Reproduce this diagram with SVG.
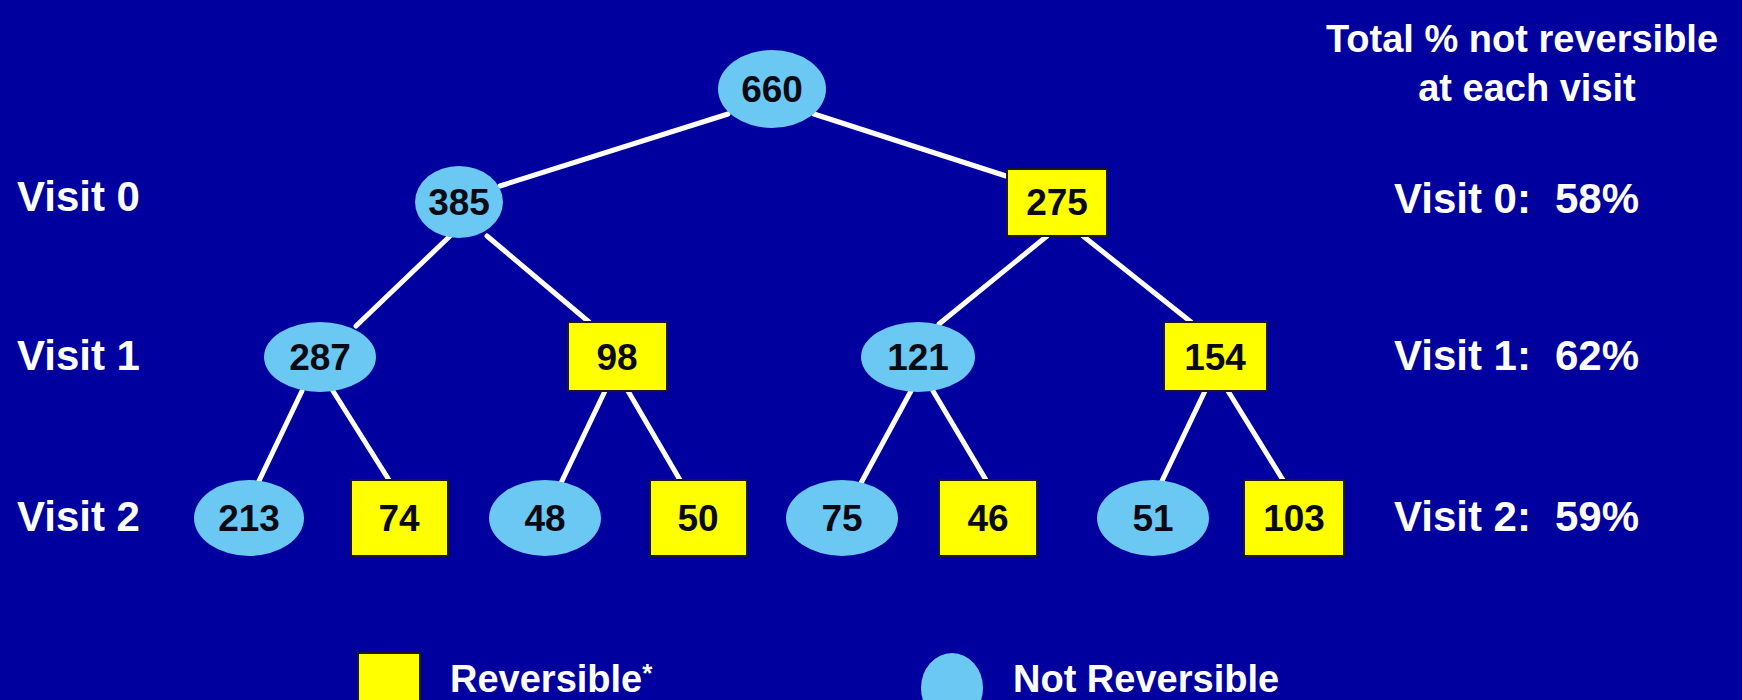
<svg xmlns="http://www.w3.org/2000/svg" width="1742" height="700" viewBox="0 0 1742 700">
<style>
.bg{fill:#00009e}
.el{fill:#6ac8f2}
.rc{fill:#ffff00;stroke:#1a1a1a;stroke-width:2}
.num{font-family:"Liberation Sans",Arial,sans-serif;font-size:37px;font-weight:bold;fill:#0a0a14;text-anchor:middle}
.lbl{font-family:"Liberation Sans",Arial,sans-serif;font-size:38px;font-weight:bold;fill:#ffffff}
.vl{font-size:42px}
.mid{text-anchor:middle}
.ln{stroke:#ffffff;stroke-width:5;stroke-linecap:round}
</style>
<rect class="bg" x="0" y="0" width="1742" height="700"/>
<g id="connectors">
<line class="ln" x1="728" y1="114" x2="500" y2="186"/>
<line class="ln" x1="814" y1="114" x2="1006" y2="176"/>
<line class="ln" x1="450" y1="236" x2="356" y2="326"/>
<line class="ln" x1="487" y1="236" x2="589" y2="322"/>
<line class="ln" x1="1047" y1="236" x2="939" y2="324"/>
<line class="ln" x1="1083" y1="236" x2="1191" y2="322"/>
<line class="ln" x1="302" y1="391" x2="258" y2="483"/>
<line class="ln" x1="333" y1="391" x2="389" y2="480"/>
<line class="ln" x1="605" y1="391" x2="561" y2="483"/>
<line class="ln" x1="628" y1="391" x2="680" y2="480"/>
<line class="ln" x1="911" y1="391" x2="861" y2="483"/>
<line class="ln" x1="933" y1="391" x2="986" y2="480"/>
<line class="ln" x1="1205" y1="391" x2="1161" y2="483"/>
<line class="ln" x1="1228" y1="391" x2="1283" y2="480"/>
</g>
<g id="n660"><ellipse class="el" cx="772" cy="89" rx="54" ry="39"/><text class="num" x="772" y="102">660</text></g>
<g id="n385"><ellipse class="el" cx="459" cy="202" rx="44" ry="36"/><text class="num" x="459" y="215">385</text></g>
<g id="n275"><rect class="rc" x="1007" y="169" width="100" height="67"/><text class="num" x="1057" y="215">275</text></g>
<g id="n287"><ellipse class="el" cx="320" cy="357" rx="56" ry="35"/><text class="num" x="320" y="370">287</text></g>
<g id="n98"><rect class="rc" x="568" y="322" width="99" height="69"/><text class="num" x="617" y="370">98</text></g>
<g id="n121"><ellipse class="el" cx="918" cy="357" rx="57" ry="35"/><text class="num" x="918" y="370">121</text></g>
<g id="n154"><rect class="rc" x="1164" y="322" width="103" height="69"/><text class="num" x="1215" y="370">154</text></g>
<g id="n213"><ellipse class="el" cx="249" cy="518" rx="55" ry="38"/><text class="num" x="249" y="531">213</text></g>
<g id="n74"><rect class="rc" x="351" y="480" width="97" height="76"/><text class="num" x="399" y="531">74</text></g>
<g id="n48"><ellipse class="el" cx="545" cy="518" rx="56" ry="38"/><text class="num" x="545" y="531">48</text></g>
<g id="n50"><rect class="rc" x="650" y="480" width="97" height="76"/><text class="num" x="698" y="531">50</text></g>
<g id="n75"><ellipse class="el" cx="842" cy="518" rx="56" ry="38"/><text class="num" x="842" y="531">75</text></g>
<g id="n46"><rect class="rc" x="939" y="480" width="98" height="76"/><text class="num" x="988" y="531">46</text></g>
<g id="n51"><ellipse class="el" cx="1153" cy="518" rx="56" ry="38"/><text class="num" x="1153" y="531">51</text></g>
<g id="n103"><rect class="rc" x="1244" y="480" width="100" height="76"/><text class="num" x="1294" y="531">103</text></g>
<g id="labels-left">
<text class="lbl vl" x="17" y="211">Visit 0</text>
<text class="lbl vl" x="17" y="370">Visit 1</text>
<text class="lbl vl" x="17" y="531">Visit 2</text>
</g>
<g id="labels-right">
<text class="lbl mid" x="1522" y="52">Total % not reversible</text>
<text class="lbl mid" x="1527" y="101">at each visit</text>
<text class="lbl vl" x="1394" y="213">Visit 0:<tspan x="1555">58%</tspan></text>
<text class="lbl vl" x="1394" y="370">Visit 1:<tspan x="1555">62%</tspan></text>
<text class="lbl vl" x="1394" y="531">Visit 2:<tspan x="1555">59%</tspan></text>
</g>
<g id="legend">
<rect class="rc" x="358" y="653" width="62" height="60"/>
<text class="lbl" x="450" y="692">Reversible<tspan font-size="26" dy="-10">*</tspan></text>
<ellipse class="el" cx="952" cy="688" rx="31" ry="35"/>
<text class="lbl" x="1013" y="692">Not Reversible</text>
</g>
</svg>
